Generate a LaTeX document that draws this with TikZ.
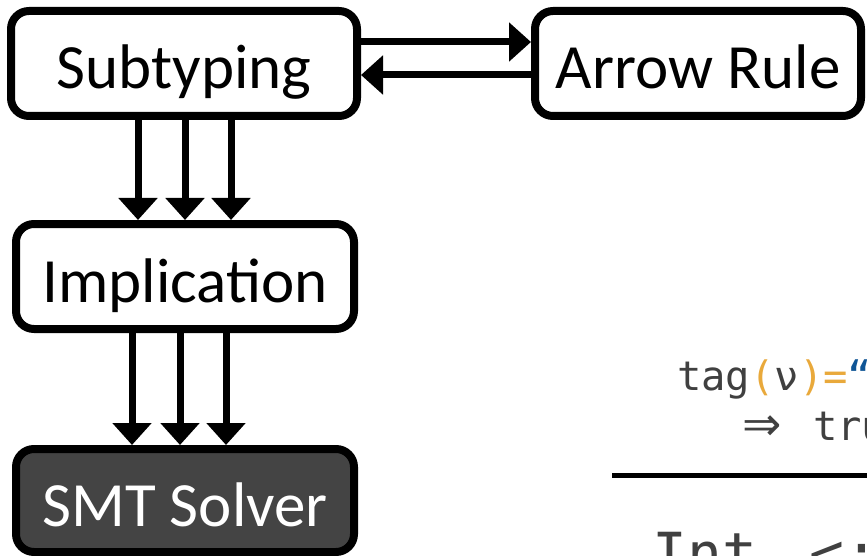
\documentclass[tikz,border=0pt]{standalone}
\usepackage{fontspec}
\setmainfont{Carlito}
\newfontfamily\codefont{DejaVu Sans Mono}
\newfontfamily\arrowfont{DejaVu Sans}
\usetikzlibrary{arrows.meta}
\definecolor{codegray}{HTML}{404040}
\definecolor{codeorange}{HTML}{E9A93B}
\definecolor{codeblue}{HTML}{0F5596}
\definecolor{solverfill}{HTML}{444444}
\tikzset{
  box/.style={draw=black, line width=8pt, rounded corners=18pt, fill=white,
    inner sep=0pt, text height=51pt, text depth=0pt,
    font=\fontsize{63}{70}\selectfont},
  darkbox/.style={box, fill=solverfill, text=white},
  arr/.style={line width=7pt, -{Triangle[width=38pt,length=22pt]}},
  code/.style={inner sep=0pt, anchor=base west, text=codegray,
    font=\codefont\fontsize{40.5}{48}\selectfont},
}
\begin{document}
\begin{tikzpicture}[x=1pt, y=-1pt]
\clip (0,0) rectangle (867,556);
\fill[white] (0,0) rectangle (867,556);

% pipeline boxes
\node[box, minimum width=346pt, minimum height=105pt] (sub) at (184,63.5) {Subtyping};
\node[box, minimum width=326pt, minimum height=105pt] (rule) at (698,63.5) {Arrow Rule};
\node[box, minimum width=338pt, minimum height=105pt] (impl) at (185,276.5) {Implication};
\node[darkbox, minimum width=338pt, minimum height=103pt] (smt) at (185,500.5) {SMT Solver};

% subtyping <-> arrow rule
\draw[arr] ([yshift=21.5pt]sub.east) -- ([yshift=21.5pt]sub.east -| rule.west);
\draw[arr] ([yshift=-11.5pt]rule.west) -- ([yshift=-11.5pt]rule.west -| sub.east);

% subtyping -> implication
\foreach \dx in {-46,1,47}
  \draw[arr] ([xshift=\dx pt]sub.south) -- ([xshift=\dx pt]sub.south |- impl.north);

% implication -> solver
\foreach \dx in {-53,-5,41}
  \draw[arr] ([xshift=\dx pt]impl.south) -- ([xshift=\dx pt]impl.south |- smt.north);

% rule premise and conclusion
\node[code] (prem) at (677,390) {tag\textcolor{codeorange}{(}ν\textcolor{codeorange}{)=}\textcolor{codeblue}{“}};
\node[code, font=\arrowfont\fontsize{47}{52}\selectfont] (imp) at (742,440) {⇒};
\node[code] (tru) at (813,440) {tru};
\coordinate (barL) at (612,475);
\coordinate (barR) at (870,475);
\draw[line width=5pt] (barL) -- (barR);
\node[code, font=\codefont\fontsize{58}{64}\selectfont] (concl) at (652,574) {Int\kern18pt\ <:};
\end{tikzpicture}
\end{document}
